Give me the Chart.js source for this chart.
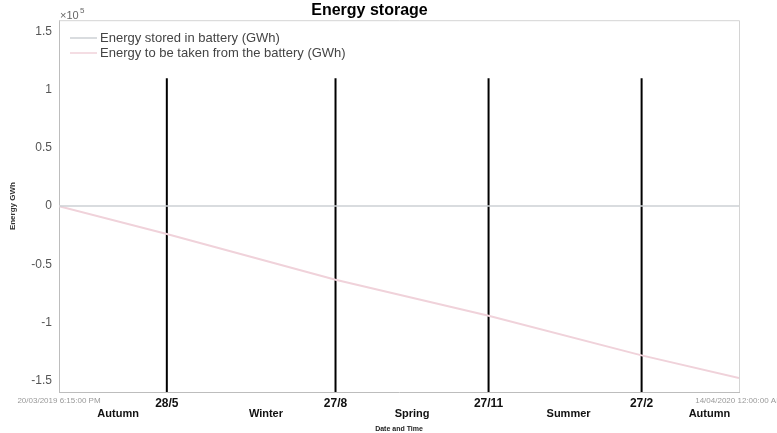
<!DOCTYPE html>
<html>
<head>
<meta charset="utf-8">
<script src="https://cdn.jsdelivr.net/npm/chart.js@4/dist/chart.umd.min.js"></script>
<style>
  html, body { margin: 0; padding: 0; background: #fff; }
</style>
</head>
<body>
<canvas id="energyChart" width="777" height="433"></canvas>
<script>
// days since 20/03/2019 6:15 PM
const days = [0, 62, 159, 247, 335, 391];
const storedGWh = [0, 0, 0, 0, 0, 0];
const takenGWh = [0, -24000, -63400, -94300, -128500, -148000];

const markerDays = [62, 159, 247, 335];
const markerTop = 110000;

const xTickDays = [0, 62, 159, 247, 335, 391];
const xTickLabels = ['20/03/2019 6:15:00 PM', '28/5', '27/8', '27/11', '27/2', '14/04/2020 12:00:00 AM'];
const seasonDays = [34, 119, 203, 293, 374];
const seasons = ['Autumn', 'Winter', 'Spring', 'Summer', 'Autumn'];
const yTicks = [-150000, -100000, -50000, 0, 50000, 100000, 150000];

const FONT = "'Liberation Sans', Arial, sans-serif";
Chart.defaults.font.family = FONT;

const datasets = [
  {
    label: 'Energy stored in battery (GWh)',
    data: days.map((d, i) => ({ x: d, y: storedGWh[i] })),
    borderColor: '#cdd0d4',
    borderWidth: 1.5,
    pointRadius: 0,
    fill: false,
  },
  {
    label: 'Energy to be taken from the battery (GWh)',
    data: days.map((d, i) => ({ x: d, y: takenGWh[i] })),
    borderColor: '#f0d2da',
    borderWidth: 2,
    pointRadius: 0,
    fill: false,
  },
];
markerDays.forEach(d => {
  datasets.push({
    label: '',
    data: [{ x: d, y: -160000 }, { x: d, y: markerTop }],
    borderColor: '#000',
    borderWidth: 2,
    pointRadius: 0,
    fill: false,
  });
});

const matlabBits = {
  id: 'matlabBits',
  beforeDatasetsDraw(chart) {
    const { ctx, chartArea: a } = chart;
    ctx.save();
    ctx.strokeStyle = '#d4d4d4';
    ctx.lineWidth = 1;
    ctx.beginPath();
    ctx.moveTo(a.left, a.top + 0.5);
    ctx.lineTo(a.right + 0.5, a.top + 0.5);
    ctx.lineTo(a.right + 0.5, a.bottom);
    ctx.stroke();
    ctx.restore();
  },
  afterDraw(chart) {
    const { ctx, chartArea: a } = chart;
    ctx.save();
    // exponent label
    ctx.fillStyle = '#666';
    ctx.textBaseline = 'alphabetic';
    ctx.font = '11px ' + FONT;
    ctx.fillText('\u00d710', a.left + 1, 19);
    ctx.font = '8px ' + FONT;
    ctx.fillText('5', a.left + 21, 13);
    // legend
    const rows = [38, 53];
    chart.data.datasets.slice(0, 2).forEach((ds, i) => {
      ctx.strokeStyle = ds.borderColor;
      ctx.lineWidth = 1.5;
      ctx.beginPath();
      ctx.moveTo(70, rows[i]);
      ctx.lineTo(97, rows[i]);
      ctx.stroke();
      ctx.fillStyle = '#444';
      ctx.font = '13px ' + FONT;
      ctx.textBaseline = 'middle';
      ctx.fillText(ds.label, 100, rows[i]);
    });
    ctx.restore();
  }
};

new Chart(document.getElementById('energyChart'), {
  type: 'line',
  data: { datasets },
  plugins: [matlabBits],
  options: {
    responsive: false,
    animation: false,
    devicePixelRatio: 1,
    layout: { padding: { left: 0, right: 38, top: 0, bottom: 0 } },
    plugins: {
      legend: { display: false },
      tooltip: { enabled: false },
      title: {
        display: true,
        text: 'Energy storage',
        color: '#000',
        font: { size: 16, weight: 'bold' },
        padding: { top: 1, bottom: 0 },
      },
    },
    scales: {
      x: {
        type: 'linear',
        position: 'bottom',
        weight: 0,
        min: 0,
        max: 391,
        afterBuildTicks: s => { s.ticks = xTickDays.map(v => ({ value: v })); },
        afterFit: s => { s.height = 15; s.paddingLeft = 0; s.paddingRight = 0; },
        ticks: {
          autoSkip: false,
          maxRotation: 0,
          padding: 4,
          callback: (v, i) => xTickLabels[i],
          font: c => (c.index === 0 || c.index === xTickDays.length - 1)
            ? { size: 8 } : { size: 12, weight: 'bold' },
          color: c => (c.index === 0 || c.index === xTickDays.length - 1) ? '#999' : '#111',
        },
        grid: { display: true, drawOnChartArea: false, drawTicks: false },
        border: { color: '#bdbdbd' },
      },
      x2: {
        type: 'linear',
        position: 'bottom',
        weight: 1,
        min: 0,
        max: 391,
        afterBuildTicks: s => { s.ticks = seasonDays.map(v => ({ value: v })); },
        afterFit: s => { s.height = 26; s.paddingLeft = 0; s.paddingRight = 0; },
        ticks: {
          autoSkip: false,
          maxRotation: 0,
          padding: 0,
          callback: (v, i) => seasons[i],
          font: { size: 11, weight: 'bold' },
          color: '#111',
        },
        grid: { display: false, drawTicks: false },
        border: { display: false },
        title: {
          display: true,
          text: 'Date and Time',
          color: '#222',
          font: { size: 7, weight: 'bold' },
          padding: { top: 1, bottom: 0 },
        },
      },
      y: {
        min: -160000,
        max: 160000,
        afterBuildTicks: s => { s.ticks = yTicks.map(v => ({ value: v })); },
        afterFit: s => { s.width = 59; },
        ticks: {
          padding: 7,
          color: '#555',
          font: { size: 12 },
          callback: v => String(v / 100000),
        },
        grid: { display: true, drawOnChartArea: false, drawTicks: false },
        border: { color: '#bdbdbd' },
        title: {
          display: true,
          text: 'Energy GWh',
          color: '#333',
          font: { size: 8, weight: 'bold' },
          padding: { top: 8, bottom: 0 },
        },
      },
    },
  },
});
</script>
</body>
</html>
